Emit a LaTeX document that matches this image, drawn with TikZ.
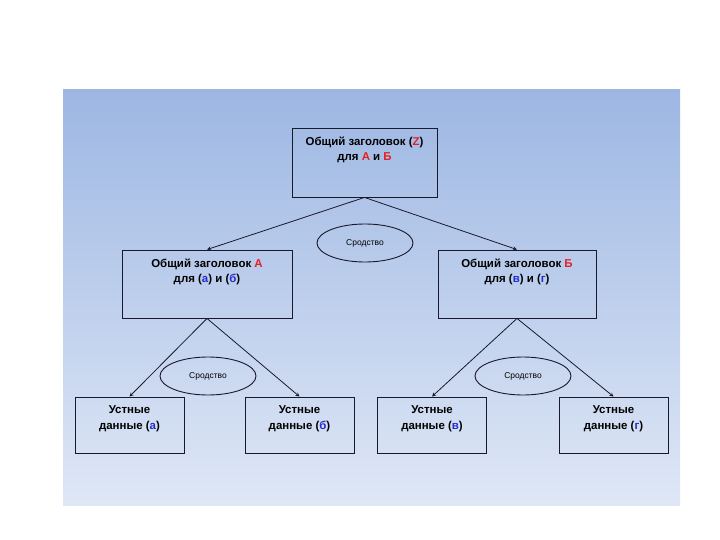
\documentclass[tikz,border=0pt]{standalone}
\usepackage{fontspec}
\setmainfont{Liberation Sans}
\usetikzlibrary{shapes.geometric}
\definecolor{bgtop}{RGB}{157,183,227}
\definecolor{bgbot}{RGB}{223,231,246}
\definecolor{frame}{RGB}{25,25,45}
\definecolor{redl}{RGB}{225,35,35}
\definecolor{bluel}{RGB}{35,45,205}
\newcommand{\rd}[1]{\textcolor{redl}{#1}}
\newcommand{\bl}[1]{\textcolor{bluel}{#1}}
\begin{document}
\begin{tikzpicture}[x=1bp,y=-1bp,>=stealth,
  box/.style={draw=frame,line width=0.9bp,inner sep=0pt},
  txt/.style={anchor=north,align=center,inner sep=0pt,yshift=-9bp,
    font=\bfseries\fontsize{11.5}{15.5}\selectfont},
  oval/.style={draw=frame,ellipse,line width=0.9bp,inner sep=0pt,
    minimum width=96bp,minimum height=38bp,font=\fontsize{8.5}{9}\selectfont},
  arr/.style={->,draw=frame,line width=0.8bp}]
  \useasboundingbox (0,0) rectangle (720,540);
  \shade[top color=bgtop,bottom color=bgbot] (63,90) rectangle (680,505);
  % upper levels
  \node[box,minimum width=145bp,minimum height=69bp,
    label={[txt]north:{Общий заголовок (\rd{Z})\\для \rd{А} и \rd{Б}}}] (top) at (364.5,162.5) {};
  \node[box,minimum width=170bp,minimum height=68bp,
    label={[txt]north:{Общий заголовок \rd{А}\\для (\bl{а}) и (\bl{б})}}] (boxA) at (207,284) {};
  \node[box,minimum width=158bp,minimum height=68bp,
    label={[txt]north:{Общий заголовок \rd{Б}\\для (\bl{в}) и (\bl{г})}}] (boxB) at (517,284) {};
  \draw[arr] (top.south) -- (boxA.north);
  \draw[arr] (top.south) -- (boxB.north);
  \node[oval] (sim) at (365,243) {Сродство};
  % lower level
  \foreach \n/\x/\l/\p in {a/129.5/а/boxA, b/299.5/б/boxA, v/432/в/boxB, g/613.5/г/boxB} {
    \node[box,minimum width=109bp,minimum height=56bp,
      label={[txt]north:{Устные\\данные (\bl{\l})}}] (\n) at (\x,425) {};
    \draw[arr] (\p.south) -- (\n.north);
  }
  \node[oval] (simA) at (208,376) {Сродство};
  \node[oval] (simB) at (523,376) {Сродство};
\end{tikzpicture}
\end{document}
